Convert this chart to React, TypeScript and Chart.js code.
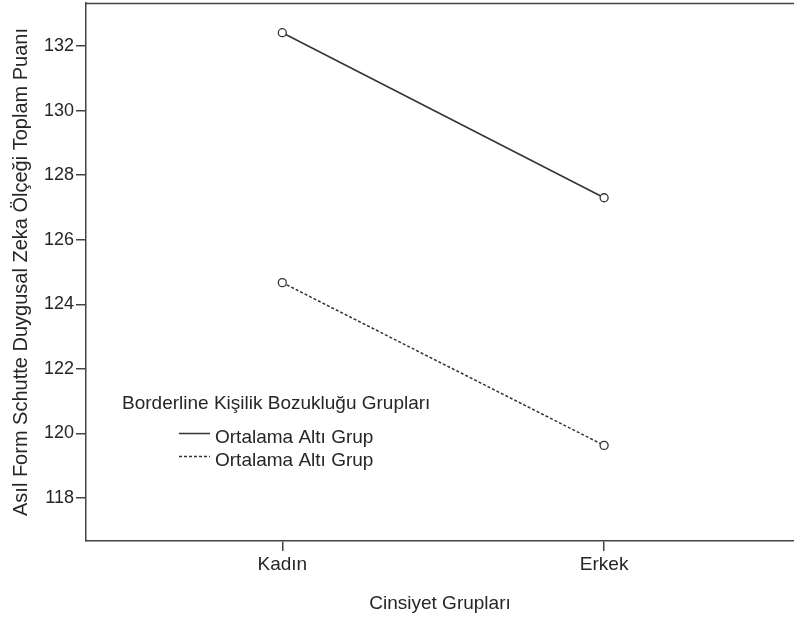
import React, { useEffect, useRef } from "react";
import { Chart, registerables } from "chart.js";

Chart.register(...registerables);

const categories = ["Kadın", "Erkek"];
const seriesLabels = ["Ortalama Altı Grup", "Ortalama Altı Grup"];
const solidValues = [132.41, 127.3];
const dashedValues = [124.67, 119.63];
const yTicks = [118, 120, 122, 124, 126, 128, 130, 132];
const legendTitle = "Borderline Kişilik Bozukluğu Grupları";
const xTitle = "Cinsiyet Grupları";
const yTitle = "Asıl Form Schutte Duygusal Zeka Ölçeği Toplam Puanı";

const FONT = "'Liberation Sans', Arial, sans-serif";
const TEXT = "#262626";
const AXIS = "#444444";
const LINE = "#333333";

const legendPlugin = {
  id: "spssLegend",
  afterDraw(chart: any) {
    const ctx = chart.ctx;
    ctx.save();
    ctx.font = `19px ${FONT}`;
    ctx.fillStyle = TEXT;
    ctx.textBaseline = "middle";
    ctx.textAlign = "left";
    ctx.fillText(legendTitle, 122, 404);
    chart.data.datasets.forEach((ds: any, i: number) => {
      const y = 438 + i * 23;
      ctx.beginPath();
      ctx.setLineDash(ds.borderDash || []);
      ctx.strokeStyle = ds.borderColor;
      ctx.lineWidth = 1.5;
      ctx.moveTo(179, y - 4.5);
      ctx.lineTo(210, y - 4.5);
      ctx.stroke();
      ctx.setLineDash([]);
      ctx.fillStyle = TEXT;
      ctx.fillText(ds.label, 215, y);
    });
    // top frame line
    const a = chart.chartArea;
    ctx.beginPath();
    ctx.strokeStyle = AXIS;
    ctx.lineWidth = 1.5;
    ctx.moveTo(a.left, a.top + 0.5);
    ctx.lineTo(a.right, a.top + 0.5);
    ctx.stroke();
    ctx.restore();
  },
};

const zeroPad = (s: any) => {
  s.paddingTop = 0;
  s.paddingBottom = 0;
  s.paddingLeft = 0;
  s.paddingRight = 0;
};

export default function App() {
  const ref = useRef<HTMLCanvasElement | null>(null);
  useEffect(() => {
    if (!ref.current) return;
    const chart = new Chart(ref.current, {
      type: "line",
      data: {
        datasets: [
          {
            label: seriesLabels[0],
            data: solidValues.map((v, i) => ({ x: i, y: v })),
            borderColor: LINE,
            borderWidth: 1.5,
            pointRadius: 4,
            pointBackgroundColor: "#ffffff",
            pointBorderColor: LINE,
            pointBorderWidth: 1.3,
            fill: false,
          },
          {
            label: seriesLabels[1],
            data: dashedValues.map((v, i) => ({ x: i, y: v })),
            borderColor: LINE,
            borderWidth: 1.5,
            borderDash: [3, 2],
            pointRadius: 4,
            pointBackgroundColor: "#ffffff",
            pointBorderColor: LINE,
            pointBorderWidth: 1.3,
            fill: false,
          },
        ],
      },
      options: {
        animation: false,
        responsive: false,
        maintainAspectRatio: false,
        layout: { autoPadding: false, padding: { top: 3, right: 0, left: 0, bottom: 0 } },
        plugins: {
          legend: { display: false },
          tooltip: { enabled: false },
        },
        scales: {
          x: {
            type: "linear",
            min: -0.61,
            max: 1.59,
            afterBuildTicks: (s: any) => {
              s.ticks = categories.map((_, i) => ({ value: i }));
            },
            afterFit: (s: any) => {
              s.height = 76;
              zeroPad(s);
            },
            ticks: {
              callback: (v: any) => categories[v] ?? "",
              font: { family: FONT, size: 19 },
              color: TEXT,
              padding: 2,
              maxRotation: 0,
            },
            grid: {
              drawOnChartArea: false,
              drawTicks: true,
              tickLength: 10,
              color: AXIS,
              lineWidth: 1.5,
            },
            border: { display: true, color: AXIS, width: 1.5 },
            title: {
              display: true,
              text: xTitle,
              font: { family: FONT, size: 19 },
              color: TEXT,
              padding: { top: 2, bottom: 2 },
            },
          },
          y: {
            type: "linear",
            min: 116.67,
            max: 133.33,
            afterBuildTicks: (s: any) => {
              s.ticks = yTicks.map((v) => ({ value: v }));
            },
            afterFit: (s: any) => {
              s.width = 86;
              zeroPad(s);
            },
            ticks: {
              font: { family: FONT, size: 18 },
              color: TEXT,
              padding: 2,
            },
            grid: {
              drawOnChartArea: false,
              drawTicks: true,
              tickLength: 10,
              color: AXIS,
              lineWidth: 1.5,
            },
            border: { display: true, color: AXIS, width: 1.5 },
            title: {
              display: true,
              text: yTitle,
              font: { family: FONT, size: 20 },
              color: TEXT,
              padding: { top: 9, bottom: 0 },
            },
          },
        },
      },
      plugins: [legendPlugin],
    } as any);
    return () => chart.destroy();
  }, []);
  return (
    <div style={{ position: "fixed", left: 0, top: 0, width: 794, height: 617, background: "#fff" }}>
      <canvas ref={ref} width={794} height={617} style={{ width: 794, height: 617, display: "block" }} />
    </div>
  );
}
